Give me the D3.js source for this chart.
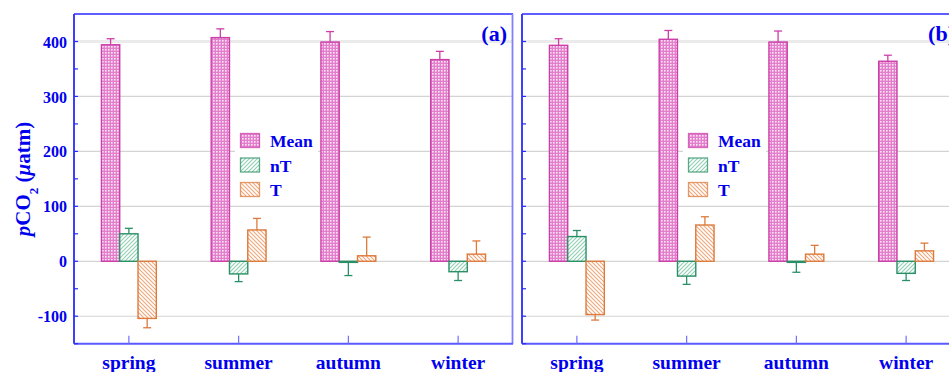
<!DOCTYPE html>
<html><head><meta charset="utf-8">
<script src="https://cdn.jsdelivr.net/npm/d3@7"></script>
<style>
html,body{margin:0;padding:0;background:#fff;}
svg{display:block;font-family:"Liberation Serif","Times New Roman",serif;font-weight:bold;}
</style></head>
<body><svg id="chart" width="949" height="372"></svg>
<script>
const categories = ["spring", "summer", "autumn", "winter"];
const seriesNames = ["Mean", "nT", "T"];
const yTicks = [-100, 0, 100, 200, 300, 400];
const yMinorTicks = [-150, -50, 50, 150, 250, 350];
const panelLabels = ["(a)", "(b)"];

// Panel (a)
const meanA = [394, 407, 399, 367];
const meanErrA = [11, 16, 19, 15];
const nTA = [50, -23, -2, -19];
const nTErrA = [10, 14, 24, 16];
const TA = [-104, 57, 10, 13];
const TErrA = [17, 21, 34, 24];
// Panel (b)
const meanB = [393, 404, 399, 364];
const meanErrB = [12, 16, 20, 11];
const nTB = [45, -27, -2, -22];
const nTErrB = [11, 15, 18, 13];
const TB = [-97, 66, 13, 19];
const TErrB = [10, 15, 16, 14];

const panels = [
  {label: panelLabels[0], values: [meanA, nTA, TA], errs: [meanErrA, nTErrA, TErrA]},
  {label: panelLabels[1], values: [meanB, nTB, TB], errs: [meanErrB, nTErrB, TErrB]}
];

const svg = d3.select("#chart");
const blue = "#0000ee";
const strokes = ["#cc3fa8", "#2a8f66", "#dd7a3c"];
const defs = svg.append("defs");

// Mean: fine checkered pattern
const pm = defs.append("pattern").attr("id","pat0").attr("patternUnits","userSpaceOnUse").attr("width",3).attr("height",3);
pm.append("rect").attr("width",3).attr("height",3).attr("fill","#e27ecb");
pm.append("rect").attr("x",1).attr("y",1).attr("width",1.6).attr("height",1.6).attr("fill","#fbe6f6");
// nT: forward diagonal
const p1 = defs.append("pattern").attr("id","pat1").attr("patternUnits","userSpaceOnUse").attr("width",4).attr("height",4);
p1.append("rect").attr("width",4).attr("height",4).attr("fill","#fff");
p1.append("path").attr("d","M-1,1 l2,-2 M0,4 l4,-4 M3,5 l2,-2").attr("stroke","#8fcfb3").attr("stroke-width",1.1);
// T: back diagonal
const p2 = defs.append("pattern").attr("id","pat2").attr("patternUnits","userSpaceOnUse").attr("width",4).attr("height",4);
p2.append("rect").attr("width",4).attr("height",4).attr("fill","#fff");
p2.append("path").attr("d","M-1,3 l2,2 M0,0 l4,4 M3,-1 l2,2").attr("stroke","#f0a67a").attr("stroke-width",1.1);

const plotTop = 14, plotBottom = 343.7, panelW = 439;
const panelX = [74, 522];
const y = d3.scaleLinear().domain([-150, 450]).range([plotBottom, plotTop]);

panels.forEach((p, pi) => {
  const x0 = panelX[pi];
  const g = svg.append("g").attr("transform", `translate(${x0},0)`);
  const x = d3.scaleBand().domain(categories).range([0, panelW]).padding(0);
  const groupW = x.bandwidth() * 0.5;
  const xs = d3.scaleBand().domain(seriesNames).range([0, groupW]).padding(0);

  // gridlines
  g.selectAll("line.grid").data(yTicks).enter().append("line")
    .attr("x1", 0).attr("x2", panelW)
    .attr("y1", d => y(d)).attr("y2", d => y(d))
    .attr("stroke", d => d === 400 ? "#ebebeb" : "#d4d4d4")
    .attr("stroke-width", d => d === 400 ? 3 : 1.2);

  // legend box (covers grid)
  const lg = g.append("g").attr("transform", "translate(161,125)");
  lg.append("rect").attr("x",0).attr("y",0).attr("width",83).attr("height",78).attr("fill","#fff");
  seriesNames.forEach((s, i) => {
    lg.append("rect").attr("x",5.5).attr("y",8.5 + i*24.5).attr("width",19).attr("height",14)
      .attr("fill",`url(#pat${i})`).attr("stroke",strokes[i]).attr("stroke-opacity",0.75).attr("stroke-width",1.3);
    lg.append("text").attr("x",35).attr("y",22 + i*24.5).attr("font-size",17.5).attr("fill",blue).text(s);
  });

  // bars
  seriesNames.forEach((s, si) => {
    const gs = g.append("g");
    const data = categories.map((c, ci) => ({c, v: p.values[si][ci], e: p.errs[si][ci]}));
    const bx = d => x(d.c) + x.bandwidth()/2 - groupW/2 + xs(s);
    // error bars
    data.forEach(d => {
      const cx = bx(d) + xs.bandwidth()/2;
      const end = d.v >= 0 ? d.v + d.e : d.v - d.e;
      gs.append("line").attr("x1",cx).attr("x2",cx).attr("y1",y(d.v)).attr("y2",y(end))
        .attr("stroke",strokes[si]).attr("stroke-width",1.3);
      gs.append("line").attr("x1",cx-4).attr("x2",cx+4).attr("y1",y(end)).attr("y2",y(end))
        .attr("stroke",strokes[si]).attr("stroke-width",1.3);
    });
    gs.selectAll("rect").data(data).enter().append("rect")
      .attr("x", d => bx(d)).attr("width", xs.bandwidth())
      .attr("y", d => y(Math.max(0, d.v))).attr("height", d => Math.abs(y(d.v) - y(0)))
      .attr("fill", `url(#pat${si})`).attr("stroke", strokes[si]).attr("stroke-width", 1.4);
  });

  // frame
  g.append("line").attr("x1",0).attr("x2",panelW).attr("y1",plotTop).attr("y2",plotTop).attr("stroke","#2a2aff").attr("stroke-width",1.5);
  g.append("line").attr("x1",0).attr("x2",0).attr("y1",plotTop).attr("y2",plotBottom).attr("stroke","#2a2aff").attr("stroke-width",1.8);
  g.append("line").attr("x1",panelW-0.5).attr("x2",panelW-0.5).attr("y1",plotTop).attr("y2",plotBottom).attr("stroke","#8080ff").attr("stroke-width",1.8);
  g.append("line").attr("x1",0).attr("x2",panelW).attr("y1",plotBottom).attr("y2",plotBottom).attr("stroke","#5a5aff").attr("stroke-width",2);

  // y ticks (inside)
  g.selectAll("line.ytick").data(yTicks.concat(yMinorTicks)).enter().append("line")
    .attr("x1",0).attr("x2",4).attr("y1",d=>y(d)).attr("y2",d=>y(d)).attr("stroke","#2a2aff").attr("stroke-width",1.2);
  // x ticks (inside)
  g.selectAll("line.xtick").data(categories).enter().append("line")
    .attr("x1",d=>x(d)+x.bandwidth()/2).attr("x2",d=>x(d)+x.bandwidth()/2)
    .attr("y1",plotBottom).attr("y2",plotBottom-8).attr("stroke","#7070ff").attr("stroke-width",1.2);
  // category labels
  g.selectAll("text.cat").data(categories).enter().append("text")
    .attr("x",d=>x(d)+x.bandwidth()/2).attr("y",369).attr("text-anchor","middle")
    .attr("font-size",19.5).attr("fill",blue).text(d=>d);
  // panel label
  g.append("text").attr("x",panelW-6).attr("y",41).attr("text-anchor","end")
    .attr("font-size",22).attr("fill",blue).text(p.label);
});

// y tick labels (left panel only)
const yAxis = d3.axisLeft(y).tickValues(yTicks).tickSize(0).tickPadding(0).tickFormat(d => String(d));
const ya = svg.append("g").attr("transform","translate(67,0)").call(yAxis);
ya.select(".domain").remove();
ya.selectAll("text").attr("font-family","Liberation Serif, serif").attr("font-weight","bold")
  .attr("font-size",16).attr("fill",blue).attr("dy","0.35em");

// y axis title
const yt = svg.append("text").attr("transform","translate(30,179) rotate(-90)")
  .attr("text-anchor","middle").attr("font-size",21).attr("fill",blue);
yt.append("tspan").attr("font-style","italic").text("p");
yt.append("tspan").text("CO");
yt.append("tspan").attr("font-size",13).attr("baseline-shift","sub").text("2");
yt.append("tspan").text(" (");
yt.append("tspan").attr("font-style","italic").text("μ");
yt.append("tspan").text("atm)");
</script></body></html>
